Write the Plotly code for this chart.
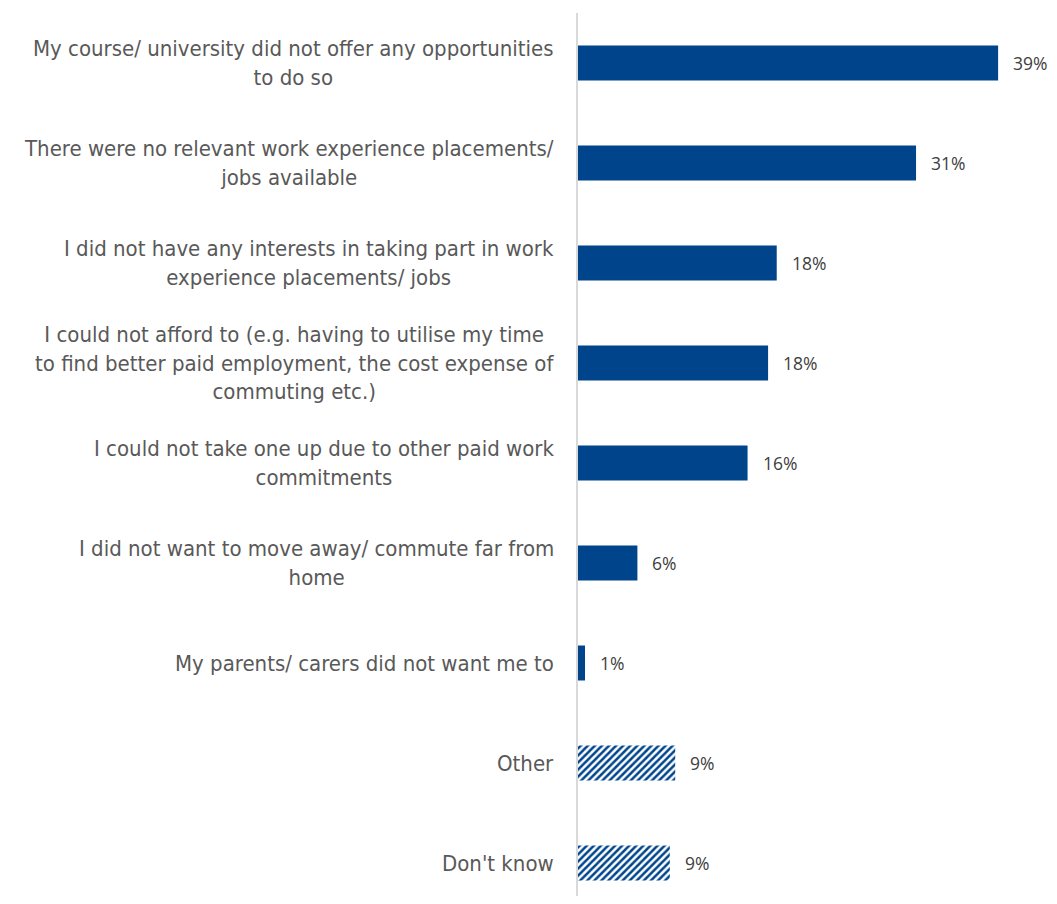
import plotly.graph_objects as go

categories = [
    "My course/ university did not offer any opportunities<br>to do so",
    "There were no relevant work experience placements/<br>jobs available",
    "I did not have any interests in taking part in work<br>experience placements/ jobs",
    "I could not afford to (e.g. having to utilise my time<br>to find better paid employment, the cost expense of<br>commuting etc.)",
    "I could not take one up due to other paid work<br>commitments",
    "I did not want to move away/ commute far from<br>home",
    "My parents/ carers did not want me to",
    "Other",
    "Don't know",
]
values = [38.9, 31.3, 18.4, 17.6, 15.7, 5.5, 0.65, 9.0, 8.5]
pct_labels = ["39%", "31%", "18%", "18%", "16%", "6%", "1%", "9%", "9%"]
hatched = [False, False, False, False, False, False, False, True, True]

BLUE = "#00458C"
ids = [f"c{i}" for i in range(len(categories))]

fig = go.Figure()
fig.add_trace(go.Bar(
    x=[v for v, h in zip(values, hatched) if not h],
    y=[c for c, h in zip(ids, hatched) if not h],
    orientation="h", width=0.35,
    marker=dict(color=BLUE, line=dict(width=0)),
    hoverinfo="skip",
))
fig.add_trace(go.Bar(
    x=[v for v, h in zip(values, hatched) if h],
    y=[c for c, h in zip(ids, hatched) if h],
    orientation="h", width=0.35,
    marker=dict(color="white", line=dict(width=0),
                pattern=dict(shape="/", fgcolor=BLUE, bgcolor="white",
                             size=5, solidity=0.5, fgopacity=1)),
    hoverinfo="skip",
))

for cid, cat, v, lab in zip(ids, categories, values, pct_labels):
    fig.add_annotation(x=0, xref="paper", y=cid, yref="y", text=cat,
                       xanchor="right", yanchor="middle", align="center",
                       xshift=-22, showarrow=False,
                       font=dict(family="DejaVu Sans Condensed, Liberation Sans", size=22, color="#595959"))
    fig.add_annotation(x=v, xref="x", y=cid, yref="y", text=lab,
                       xanchor="left", yanchor="middle", xshift=13, showarrow=False,
                       font=dict(family="Open Sans", size=17.5, color="#404040"))

fig.update_layout(
    width=1049, height=888,
    margin=dict(l=570, r=0, t=5, b=0),
    paper_bgcolor="white", plot_bgcolor="white",
    showlegend=False, barmode="overlay",
)
fig.update_xaxes(range=[0, 479 / 10.8], showgrid=False, zeroline=False,
                 showticklabels=False, showline=False)
fig.update_yaxes(type="category", categoryorder="array", categoryarray=ids,
                 range=[8.33, -0.5], showticklabels=False, showgrid=False,
                 zeroline=False, showline=True, linecolor="#D9D9D9", linewidth=2)

fig.write_html("out.html")
